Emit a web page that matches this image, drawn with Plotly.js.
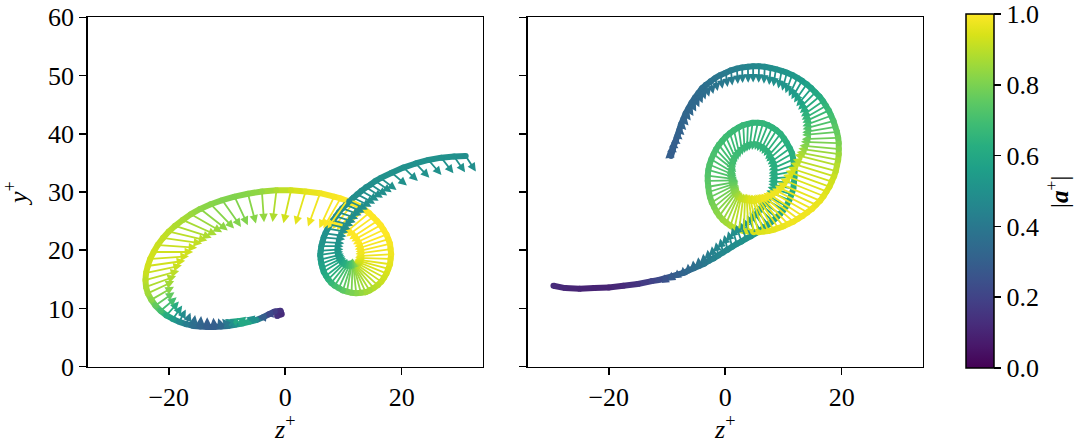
<!DOCTYPE html>
<html><head><meta charset="utf-8">
<script src="https://cdn.plot.ly/plotly-3.0.1.min.js"></script>
<style>html,body{margin:0;padding:0;background:#fff}#chart{width:1074px;height:444px}</style>
</head><body><div id="chart"></div>
<script>
// ---- Left panel: trajectory (z+, y+), |a+|, in-plane acceleration arrow (length in axis units, direction in degrees)
const leftZ = [-1.4,-0.6,-0.8,-1.8,-2.8,-3.8, -5.0,-6.2,-7.4,-8.6, -9.8,-11.0,-12.2,-13.4,-14.6,-15.8,
  -17.0,-18.2,-19.3,-20.4,-21.4,-22.3,-23.0,-23.6,-23.9,-24.0, -23.9,-23.6,-23.2,-22.6,-21.9,-21.0,-20.0,-18.9,-17.6,-16.2,
  -14.6,-12.8,-10.8,-8.7,-6.4,-4.0,-1.5,1.0,3.5,6.0, 8.4,
  9.5,10.6,11.7,12.7,13.6,14.4,15.1,15.8,16.4,16.9, 17.4,17.7,18.0,18.1,18.2,18.1,18.0,17.7,17.4,17.0,
  16.5,15.9,15.2,14.5,13.8,13.0,12.2,11.4,10.6,9.9, 9.2,8.5,7.9,7.4,7.0,6.6,6.4,6.2,6.1,6.0,
  6.1,6.2,6.4,6.6,6.9,7.3,7.7,8.2,8.7,9.2, 9.8,10.4,11.0,11.7,12.4,13.1,13.9,14.7,15.5,16.4,
  18.3,20.3,22.4,24.6,26.8,29.0,31.0];
const leftY = [8.7,9.0,9.6,9.5,9.0,8.5, 8.0,7.7,7.4,7.2, 7.0,6.9,6.8,6.8,6.9,7.0,
  7.3,7.7,8.2,8.8,9.6,10.5,11.5,12.6,13.7,14.9, 16.1,17.3,18.5,19.7,20.9,22.1,23.2,24.2,25.2,26.2,
  27.1,27.9,28.6,29.2,29.7,30.1,30.3,30.3,30.1,29.8, 29.2,
  28.9,28.5,28.1,27.6,27.0,26.4,25.7,25.0,24.3,23.5, 22.7,21.9,21.1,20.2,19.3,18.5,17.6,16.8,16.0,15.3,
  14.6,14.0,13.5,13.1,12.8,12.7,12.6,12.7,12.9,13.1, 13.5,13.9,14.4,15.0,15.6,16.3,17.0,17.7,18.4,19.2,
  19.9,20.7,21.4,22.2,22.9,23.7,24.4,25.1,25.8,26.5, 27.2,27.8,28.4,29.0,29.6,30.2,30.8,31.3,31.9,32.4,
  33.3,34.2,34.9,35.5,35.9,36.1,36.2];
const leftMag = [0.14,0.12,0.14,0.18,0.22,0.3, 0.5,0.6,0.6,0.5, 0.4,0.33,0.3,0.3,0.32,0.36,
  0.42,0.48,0.55,0.62,0.7,0.76,0.82,0.86,0.88,0.9, 0.92,0.93,0.93,0.93,0.92,0.91,0.9,0.88,0.87,0.85,
  0.83,0.82,0.81,0.81,0.82,0.84,0.88,0.93,0.96,0.98, 0.99,
  1.0,1.0,1.0,1.0,1.0,1.0,1.0,1.0,1.0,1.0, 1.0,0.99,0.99,0.98,0.98,0.97,0.96,0.95,0.94,0.93,
  0.92,0.9,0.89,0.87,0.86,0.84,0.82,0.8,0.78,0.75, 0.72,0.7,0.67,0.64,0.62,0.6,0.58,0.57,0.55,0.54,
  0.53,0.52,0.51,0.5,0.5,0.5,0.49,0.49,0.49,0.49, 0.49,0.49,0.49,0.49,0.49,0.49,0.49,0.49,0.5,0.5,
  0.5,0.5,0.5,0.5,0.5,0.5,0.49];
const leftLen = [0.5,0.5,0.5,0.6,0.7,0.9, 1.8,2.2,2.3,2.0, 1.6,1.5,1.6,1.7,1.8,1.9,
  2.1,2.4,2.8,3.2,3.6,4.0,4.5,5.0,5.5,6.0, 6.3,6.5,6.7,6.8,6.8,6.8,6.8,6.6,6.4,6.2,
  6.0,5.8,5.6,5.4,5.3,5.3,5.5,5.8,6.0,6.1, 6.0,
  5.9,5.8,5.75,5.7,5.7,5.7,5.7,5.7,5.75,5.8, 5.9,6.0,6.05,6.1,6.1,6.1,6.05,6.0,6.0,6.0,
  6.0,6.0,6.0,6.0,6.0,6.0,5.95,5.9,5.75,5.6, 5.4,5.2,5.0,4.8,4.65,4.5,4.35,4.2,4.1,4.0,
  3.9,3.8,3.75,3.7,3.65,3.6,3.6,3.6,3.55,3.5, 3.5,3.5,3.5,3.5,3.45,3.4,3.4,3.4,3.4,3.4,
  3.4,3.4,3.4,3.4,3.4,3.3,3.2];
const leftDeg = [150,120,200,210,190,175, 165,165,160,150, 130,110,95,90,85,80,
  70,62,55,48,40,35,30,25,20,15, 12,8,4,0,-4,-8,-13,-18,-24,-30,
  -38,-46,-55,-65,-75,-86,-97,-103,-107,-110, -115,
  -120,-125,-129,-133,-137,-140,-144,-147,-151,-155, -159,-163,-167,-172,-177,178,172,165,158,152,
  145,138,130,122,114,105,96,88,80,72, 65,58,51,45,38,32,26,20,14,8,
  4,0,-3,-5,-8,-10,-12,-14,-16,-18, -20,-22,-24,-26,-28,-30,-32,-34,-35,-37,
  -40,-43,-46,-49,-52,-55,-57];

// ---- Right panel
const rightZ = [-29.5,-27.5,-25.0,-22.5,-20.0,-17.5,-15.0,
  -12.6,-11.4,-10.3,-9.2,-8.2,-7.2,-6.3,-5.4,-4.5,-3.6, -2.8,-2.0,-1.2,-0.4,0.4,1.2,2.0,2.8,3.6,4.4,
  5.2,6.0,6.7,7.4,8.1,8.8,
  9.4,10.0,10.5,11.0,11.4,11.7,11.8,11.9,11.9,11.8, 11.7,11.5,11.1,10.6,10.1,9.5,8.8,8.1,7.3,6.5,
  5.6,4.7,3.9,3.1,2.3,1.5,0.8,0.1,-0.5,-1.1, -1.6,-2.0,-2.4,-2.7,-2.9,-3.0,-3.0,-2.9,-2.8,-2.6,
  -2.3,-1.9,-1.5,-1.0,-0.4,0.2,0.9,1.6,2.4,3.2, 4.0,4.9,5.7,6.6,7.4,8.3,9.1,10.0,10.8,11.7,
  12.5,13.3,14.1,14.9,15.6,16.3,16.9,17.4,17.9,18.3, 18.7,19.0,19.2,19.4,19.5,19.5,19.5,19.4,19.2,18.9,
  18.6,18.2,17.8,17.3,16.8,16.2,15.5,14.8,14.0,13.2, 12.4,11.5,10.6,9.7,8.7,7.8,6.8,5.8,4.8,3.9,
  2.9,2.0,1.0,0.1,-0.8,-1.7,-2.5,-3.3,-4.0,-4.6, -5.2,-5.8,-6.3,-6.8,-7.2,-7.6,-7.9,-8.2,-8.5,-8.8,
  -9.0,-9.3];
const rightY = [13.9,13.5,13.4,13.5,13.6,13.9,14.2,
  14.7,14.9,15.2,15.5,15.8,16.1,16.5,16.9,17.3,17.7, 18.2,18.6,19.1,19.6,20.1,20.6,21.1,21.5,22.0,22.4,
  22.9,23.4,23.9,24.4,25.0,25.6,
  26.2,26.9,27.6,28.6,29.6,30.6,31.6,32.6,33.6,34.6, 35.6,36.6,37.5,38.4,39.2,40.0,40.6,41.1,41.5,41.8,
  41.9,41.9,41.7,41.5,41.1,40.6,40.1,39.5,38.8,38.1, 37.3,36.5,35.6,34.7,33.8,32.8,31.9,30.9,30.0,29.1,
  28.2,27.4,26.6,25.9,25.2,24.7,24.2,23.8,23.5,23.3, 23.2,23.1,23.1,23.2,23.3,23.5,23.8,24.1,24.5,24.9,
  25.4,25.9,26.5,27.1,27.8,28.5,29.3,30.1,30.9,31.8, 32.7,33.6,34.6,35.5,36.5,37.4,38.4,39.3,40.3,41.2,
  42.2,43.1,44.0,44.8,45.6,46.4,47.1,47.8,48.5,49.1, 49.6,50.1,50.5,50.8,51.1,51.3,51.5,51.6,51.6,51.5,
  51.4,51.2,50.9,50.5,50.1,49.6,49.0,48.4,47.8,47.0, 46.2,45.3,44.4,43.5,42.5,41.6,40.6,39.7,38.8,38.0,
  37.2,36.2];
const rightMag = [0.12,0.11,0.1,0.1,0.1,0.12,0.15,
  0.2,0.22,0.25,0.28,0.3,0.32,0.34,0.36,0.38,0.4, 0.42,0.44,0.45,0.46,0.47,0.48,0.49,0.5,0.51,0.52,
  0.53,0.54,0.55,0.56,0.57,0.57,
  0.58,0.59,0.6,0.6,0.61,0.61,0.62,0.62,0.62,0.62, 0.63,0.63,0.63,0.63,0.64,0.64,0.65,0.65,0.65,0.66,
  0.66,0.66,0.66,0.67,0.67,0.68,0.68,0.69,0.69,0.7, 0.7,0.71,0.71,0.72,0.72,0.73,0.74,0.75,0.76,0.77,
  0.79,0.8,0.82,0.83,0.85,0.86,0.88,0.9,0.91,0.92, 0.93,0.94,0.95,0.95,0.96,0.96,0.97,0.97,0.98,0.98,
  0.98,0.98,0.98,0.98,0.97,0.97,0.96,0.95,0.94,0.93, 0.92,0.9,0.89,0.87,0.85,0.82,0.8,0.78,0.76,0.74,
  0.72,0.7,0.68,0.66,0.64,0.62,0.6,0.58,0.57,0.55, 0.54,0.53,0.52,0.51,0.5,0.49,0.48,0.47,0.46,0.45,
  0.44,0.43,0.42,0.41,0.4,0.39,0.38,0.37,0.36,0.35, 0.34,0.34,0.33,0.33,0.32,0.32,0.31,0.31,0.3,0.3,
  0.3,0.3];
const rightLen = [0.5,0.4,0.3,0.3,0.3,0.3,0.4,
  0.5,0.6,0.7,0.8,0.9,1.05,1.2,1.35,1.5,1.7, 1.9,2.1,2.3,2.45,2.6,2.75,2.9,3.05,3.2,3.35,
  3.5,3.6,3.7,3.8,3.9,4.0,
  4.1,4.15,4.2,4.25,4.3,4.35,4.4,4.45,4.5,4.55, 4.6,4.65,4.7,4.75,4.8,4.8,4.8,4.8,4.8,4.8,
  4.8,4.8,4.8,4.8,4.8,4.8,4.8,4.8,4.8,4.85, 4.9,4.95,5.0,5.05,5.1,5.15,5.2,5.25,5.3,5.4,
  5.5,5.6,5.7,5.8,5.9,6.0,6.1,6.2,6.3,6.4, 6.5,6.6,6.7,6.75,6.8,6.9,7.0,7.1,7.2,7.3,
  7.4,7.5,7.6,7.7,7.8,7.9,8.0,8.0,8.0,7.9, 7.8,7.65,7.5,7.25,7.0,6.75,6.5,6.25,6.0,5.75,
  5.5,5.25,5.0,4.8,4.6,4.4,4.2,4.0,3.8,3.65, 3.5,3.35,3.2,3.1,3.0,2.95,2.9,2.85,2.8,2.75,
  2.7,2.65,2.6,2.5,2.4,2.3,2.2,2.1,2.0,1.9, 1.8,1.7,1.6,1.5,1.4,1.3,1.2,1.1,1.0,0.9,
  0.8,0.7];
const rightDeg = [180,175,160,140,120,105,100,
  95,95,95,95,95,95,95,95,95,96, 97,98,100,101,103,105,107,109,112,113,
  115,120,125,130,135,140,
  145,148,152,157,163,170,177,-176,-169,-162, -156,-150,-144,-138,-132,-127,-122,-117,-112,-107,
  -102,-97,-92,-87,-82,-77,-72,-66,-60,-53, -46,-38,-31,-23,-16,-7,1,10,18,26,
  33,40,47,54,60,66,72,78,83,88, 93,99,104,109,114,119,124,129,134,139,
  143,147,150,153,155,157,158,159,160,162, 163,165,166,169,172,175,178,-178,-175,-170,
  -165,-160,-155,-150,-145,-140,-135,-130,-125,-120, -115,-110,-105,-101,-98,-95,-93,-91,-90,-89,
  -88,-86,-85,-83,-82,-80,-78,-75,-72,-68, -65,-61,-58,-54,-50,-46,-42,-38,-35,-31,
  -28,-20];

const zTicks = [-20, 0, 20];
const zTickText = ['\u221220', '0', '20'];
const yTicks = [0, 10, 20, 30, 40, 50, 60];
const cbTicks = [0, 0.2, 0.4, 0.6, 0.8, 1.0];
const cbTickText = ['0.0', '0.2', '0.4', '0.6', '0.8', '1.0'];

// ---- styling / helpers
const VIR = [[0,'#440154'],[0.06274509803921569,'#48186a'],[0.12549019607843137,'#472d7b'],[0.18823529411764706,'#424086'],[0.25098039215686274,'#3b528b'],[0.3137254901960784,'#33638d'],[0.3764705882352941,'#2c728e'],[0.4392156862745098,'#26828e'],[0.5019607843137255,'#21918c'],[0.5647058823529412,'#1fa088'],[0.6274509803921569,'#28ae80'],[0.6901960784313725,'#3fbc73'],[0.7529411764705882,'#5ec962'],[0.8156862745098039,'#84d44b'],[0.8784313725490196,'#addc30'],[0.9411764705882353,'#d8e219'],[1,'#fde725']];
function hex2rgb(h){return [parseInt(h.slice(1,3),16),parseInt(h.slice(3,5),16),parseInt(h.slice(5,7),16)];}
function viridis(t){
  t = Math.max(0, Math.min(1, t));
  for (let i = 0; i < VIR.length - 1; i++) {
    const a = VIR[i], b = VIR[i+1];
    if (t <= b[0]) {
      const f = (t - a[0]) / (b[0] - a[0]);
      const ca = hex2rgb(a[1]), cb = hex2rgb(b[1]);
      const c = ca.map((v, k) => Math.round(v + f * (cb[k] - v)));
      return 'rgb(' + c.join(',') + ')';
    }
  }
  return VIR[VIR.length-1][1];
}

const FONT = 'Liberation Serif';
const traces = [];
const annotations = [];
function addPanel(Z, Y, M, L, D, xa, ya, showScale) {
  for (let i = 0; i < Z.length - 1; i++) {
    traces.push({x:[Z[i], Z[i+1]], y:[Y[i], Y[i+1]], mode:'lines', xaxis:xa, yaxis:ya,
      line:{color: viridis((M[i] + M[i+1]) / 2), width:6}, hoverinfo:'skip', showlegend:false});
  }
  const mk = {x:Z, y:Y, mode:'markers', xaxis:xa, yaxis:ya, hoverinfo:'skip', showlegend:false,
    marker:{size:6, color:M, colorscale:VIR, cmin:0, cmax:1, showscale:showScale, line:{width:0}}};
  if (showScale) {
    mk.marker.colorbar = {
      x: 966/1074, xanchor:'left', xpad:0, ypad:0,
      y: 1 - 191/444, yanchor:'middle', lenmode:'pixels', len:354,
      thicknessmode:'pixels', thickness:28,
      outlinewidth:1.5, outlinecolor:'#000',
      ticks:'outside', ticklen:7, tickwidth:1.5, tickcolor:'#000',
      tickvals: cbTicks, ticktext: cbTickText,
      tickfont:{family:FONT, size:26, color:'#000'}
    };
  }
  traces.push(mk);
  for (let i = 0; i < Z.length; i++) {
    const r = D[i] * Math.PI / 180;
    annotations.push({
      xref:xa, yref:ya, axref:xa, ayref:ya,
      x: Z[i] + L[i] * Math.cos(r), y: Y[i] + L[i] * Math.sin(r),
      ax: Z[i], ay: Y[i], text:'', showarrow:true,
      arrowhead:2, arrowsize:0.95, arrowwidth:1.8, arrowcolor: viridis(M[i]),
      standoff:0, startstandoff:0
    });
  }
}
addPanel(leftZ, leftY, leftMag, leftLen, leftDeg, 'x', 'y', true);
addPanel(rightZ, rightY, rightMag, rightLen, rightDeg, 'x2', 'y2', false);

// colour-bar label
annotations.push({xref:'paper', yref:'paper', x:1057/1074, y:1 - 192/444, xanchor:'center', yanchor:'middle',
  textangle:-90, showarrow:false, text:'|<b><i>a</i></b><sup>+</sup>|', font:{family:FONT, size:25, color:'#000'}});

const fontS = {family:FONT, size:26, color:'#000'};
const xBase = {range:[-33.92, 33.92], tickvals:zTicks, ticktext:zTickText, showgrid:false, zeroline:false,
  showline:true, mirror:true, linecolor:'#000', linewidth:1.5, ticks:'outside', ticklen:7, tickwidth:1.5,
  tickcolor:'#000', tickfont:fontS, fixedrange:true,
  title:{text:'<i>z</i><sup>+</sup>', font:fontS, standoff:0}};
const yBase = {range:[0, 60], tickvals:yTicks, showgrid:false, zeroline:false, domain:[0.1741, 0.9610],
  showline:true, mirror:true, linecolor:'#000', linewidth:1.5, ticks:'outside', ticklen:7, tickwidth:1.5,
  tickcolor:'#000', tickfont:fontS, fixedrange:true};

const layout = {
  width:1074, height:444, margin:{l:0, r:0, t:0, b:0},
  paper_bgcolor:'#fff', plot_bgcolor:'#fff', font:fontS, showlegend:false,
  xaxis: Object.assign({}, xBase, {domain:[87.7/1074, 482.7/1074], anchor:'y'}),
  yaxis: Object.assign({}, yBase, {anchor:'x', title:{text:'<i>y</i><sup>+</sup>', font:fontS, standoff:24}}),
  xaxis2: Object.assign({}, xBase, {domain:[527.7/1074, 922.7/1074], anchor:'y2'}),
  yaxis2: Object.assign({}, yBase, {anchor:'x2', showticklabels:false}),
  annotations: annotations
};
Plotly.newPlot('chart', traces, layout, {staticPlot:true, displayModeBar:false});
</script></body></html>
